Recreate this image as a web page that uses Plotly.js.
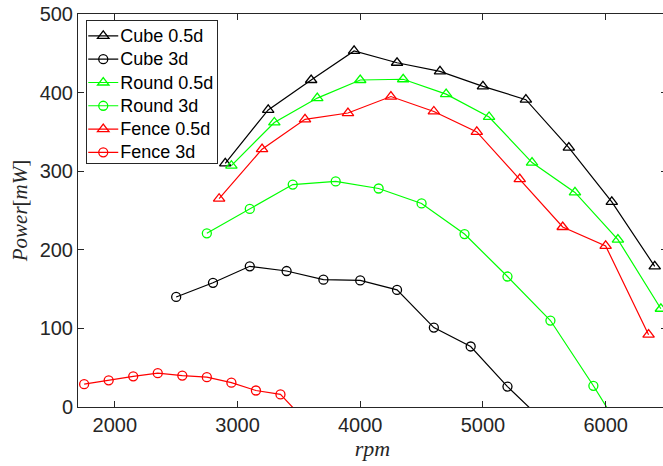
<!DOCTYPE html>
<html>
<head>
<meta charset="utf-8">
<script src="https://cdn.plot.ly/plotly-3.0.1.min.js"></script>
<style>
html,body{margin:0;padding:0;overflow:hidden;background:#fff;}
#chart{width:667px;height:466px;}
</style>
</head>
<body>
<div id="chart"></div>
<script>
// Data (rpm vs Power in mW)
const cube05X = [2900, 3250, 3600, 3950, 4300, 4650, 5000, 5350, 5700, 6050, 6400];
const cube05Y = [310, 378, 416, 453, 438, 427, 408, 391, 330, 261, 179];

const cube3X = [2500, 2800, 3100, 3400, 3700, 4000, 4300, 4600, 4900, 5200, 5500];
const cube3Y = [140, 158, 179, 173, 162, 161, 149, 101, 77, 26, -19];

const round05X = [2950, 3300, 3650, 4000, 4350, 4700, 5050, 5400, 5750, 6100, 6450];
const round05Y = [307, 362, 393, 416, 417, 398, 369, 311, 273, 213, 125];

const round3X = [2750, 3100, 3450, 3800, 4150, 4500, 4850, 5200, 5550, 5900, 6250];
const round3Y = [221, 252, 283, 287, 278, 259, 220, 166, 110, 27, -61];

const fence05X = [2850, 3200, 3550, 3900, 4250, 4600, 4950, 5300, 5650, 6000, 6350];
const fence05Y = [265, 328, 366, 374, 395, 376, 350, 290, 229, 205, 92];

const fence3X = [1750, 1950, 2150, 2350, 2550, 2750, 2950, 3150, 3350, 3550];
const fence3Y = [29, 34, 39, 43, 40, 38, 31, 21, 16, -17];

const seriesNames = ["Cube 0.5d", "Cube 3d", "Round 0.5d", "Round 3d", "Fence 0.5d", "Fence 3d"];
const xTicks = [2000, 3000, 4000, 5000, 6000];
const yTicks = [0, 100, 200, 300, 400, 500];

function mk(x, y, name, color, symbol, size) {
  return {
    x: x, y: y,
    name: '<span style="font-size:18px">' + name + '</span>',
    type: "scatter", mode: "lines+markers",
    line: {color: color, width: 1.2},
    marker: {symbol: symbol, size: size, color: color, line: {color: color, width: 1.3}}
  };
}

const data = [
  mk(cube05X, cube05Y, seriesNames[0], "#000000", "triangle-up-open", 10),
  mk(cube3X, cube3Y, seriesNames[1], "#000000", "circle-open", 9),
  mk(round05X, round05Y, seriesNames[2], "#00ff00", "triangle-up-open", 10),
  mk(round3X, round3Y, seriesNames[3], "#00ff00", "circle-open", 9),
  mk(fence05X, fence05Y, seriesNames[4], "#ff0000", "triangle-up-open", 10),
  mk(fence3X, fence3Y, seriesNames[5], "#ff0000", "circle-open", 9)
];

const axisCommon = {
  showline: true, linecolor: "#262626", linewidth: 1,
  mirror: "allticks", ticks: "inside", ticklen: 6, tickwidth: 1, tickcolor: "#262626",
  showgrid: false, zeroline: false,
  tickfont: {family: "Liberation Sans, Arial, sans-serif", size: 20, color: "#262626"}
};

const layout = {
  width: 667, height: 466,
  margin: {l: 78, r: 0, t: 14, b: 59},
  paper_bgcolor: "#ffffff", plot_bgcolor: "#ffffff",
  showlegend: true,
  xaxis: Object.assign({}, axisCommon, {
    range: [1700, 6500], tickvals: xTicks, ticktext: xTicks.map(String),
    title: {text: "<i>rpm</i>", font: {family: "Liberation Serif, serif", size: 22, color: "#262626"}, standoff: 5}
  }),
  yaxis: Object.assign({}, axisCommon, {
    range: [0, 500], tickvals: yTicks, ticktext: yTicks.map(String),
    title: {text: "<i>Power</i>[<i>mW</i>]", font: {family: "Liberation Serif, serif", size: 21, color: "#262626"}, standoff: 6}
  }),
  legend: {
    x: 0.014, y: 0.984, xanchor: "left", yanchor: "top",
    xref: "paper", yref: "paper",
    bgcolor: "#ffffff", bordercolor: "#262626", borderwidth: 1,
    font: {family: "Liberation Sans, Arial, sans-serif", size: 15.6, color: "#000000"}
  }
};

Plotly.newPlot("chart", data, layout, {displayModeBar: false, staticPlot: true}).then(function (gd) {
  // tighten the legend box to match the compact MATLAB-style legend
  const leg = gd.querySelector(".legend");
  if (!leg) return;
  const bg = leg.querySelector("rect.bg");
  const traces = leg.querySelectorAll("g.traces");
  let maxRight = 0;
  traces.forEach(function (t) {
    const tr = t.getAttribute("transform") || "";
    const m = /translate\(\s*([-\d.e]+)[,\s]+([-\d.e]+)\s*\)/.exec(tr);
    let tx = 1;
    if (m) {
      tx = parseFloat(m[1]) - 4;
      const ty = parseFloat(m[2]) - 2;
      t.setAttribute("transform", "translate(" + tx + "," + ty + ")");
    }
    const txt = t.querySelector("text.legendtext");
    if (txt) {
      txt.setAttribute("x", 37);
      const bb = txt.getBBox();
      maxRight = Math.max(maxRight, tx + bb.x + bb.width);
    }
  });
  if (bg && maxRight > 0) {
    bg.setAttribute("width", maxRight + 4);
    const h = parseFloat(bg.getAttribute("height"));
    if (!isNaN(h)) bg.setAttribute("height", h - 8);
  }
});
</script>
</body>
</html>
